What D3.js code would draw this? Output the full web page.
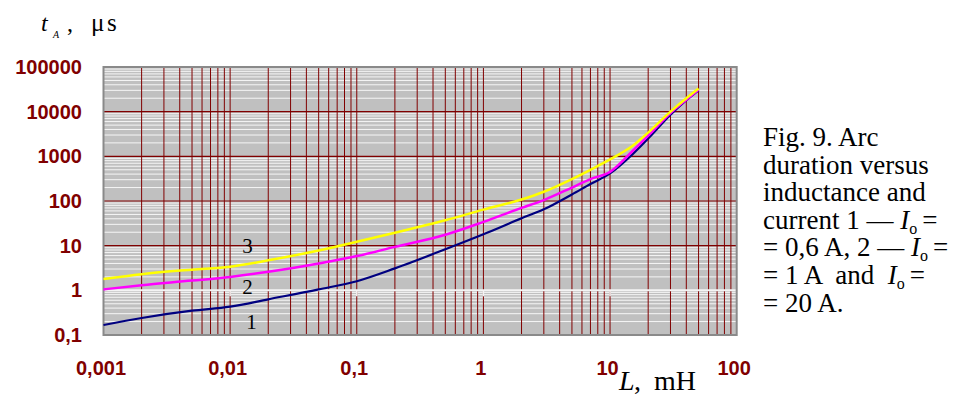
<!DOCTYPE html>
<html>
<head>
<meta charset="utf-8">
<script src="https://cdn.jsdelivr.net/npm/d3@7"></script>
<style>
body{margin:0;background:#fff}
svg{display:block}
</style>
</head>
<body>
<div id="chart"></div>
<script>
// inductance L, mH
var L_values=[0.001,0.002,0.005,0.01,0.02,0.05,0.1,0.2,0.5,1,2,3,5,7,10,15,20,30,40,50];
// arc duration tA, us  (1 - Io=0,6 A, 2 - Io=1 A, 3 - Io=20 A)
var curve1=[0.167,0.24,0.35,0.43,0.63,1.05,1.6,3.1,8.3,18,41,65,140,240,414,1100,2500,8500,18000,30000];
var curve2=[1.05,1.3,1.65,2.0,2.6,4.0,5.85,9.4,17.5,34,70,105,200,310,450,1300,2900,9300,18500,31000];
var curve3=[1.79,2.3,2.9,3.37,4.7,7.8,12.2,19.4,37,64,108,161,310,500,851,1700,3400,10000,20000,33000];
var curveNames=["1","2","3"];
var yTicks=[0.1,1,10,100,1000,10000,100000];
var yTickLabels=["0,1","1","10","100","1000","10000","100000"];
var xTicks=[0.001,0.01,0.1,1,10,100];
var xTickLabels=["0,001","0,01","0,1","1","10","100"];
var captionLines=["Fig. 9. Arc","duration versus","inductance and","current 1 \u2014 *=","= 0,6 A, 2 \u2014 *=","= 1 A  and  *=","= 20 A."];

var w=953,h=394;
var pLeft=103.5,pRight=736.7,pTop=67,pBottom=335;
var darkRed="#800000";
var lineCOLOR=["#000080","#ff00ff","#ffff00"];

var svg=d3.select("#chart").append("svg").attr("width",w).attr("height",h);

var x=d3.scaleLog().domain([0.001,100]).range([pLeft,pRight]);
var y=d3.scaleLog().domain([0.1,100000]).range([pBottom,pTop]);

//plot background
svg.append("rect")
	.attr("x",pLeft).attr("y",pTop)
	.attr("width",pRight-pLeft).attr("height",pBottom-pTop)
	.attr("fill","#c0c0c0");

//minor values on both axes
var yMinor=[],xMinor=[];
for(var e=-1;e<5;e++){for(var m=2;m<10;m++){yMinor.push(m*Math.pow(10,e));}}
for(var e=-3;e<2;e++){for(var m=2;m<10;m++){xMinor.push(m*Math.pow(10,e));}}

//horizontal minor gridlines, white
svg.append("g").selectAll("line").data(yMinor).enter().append("line")
	.attr("x1",pLeft).attr("x2",pRight)
	.attr("y1",function(d){return y(d);}).attr("y2",function(d){return y(d);})
	.attr("stroke","#ffffff").attr("stroke-opacity",0.85).attr("stroke-width",1);

//horizontal major gridlines
svg.append("g").selectAll("line").data(yTicks.filter(function(d){return d>1&&d<100000;})).enter().append("line")
	.attr("x1",pLeft).attr("x2",pRight)
	.attr("y1",function(d){return y(d);}).attr("y2",function(d){return y(d);})
	.attr("stroke",darkRed).attr("stroke-width",1.2);

//vertical gridlines
svg.append("g").selectAll("line").data(xMinor.concat(xTicks.filter(function(d){return d>0.001&&d<100;}))).enter().append("line")
	.attr("x1",function(d){return x(d);}).attr("x2",function(d){return x(d);})
	.attr("y1",pTop).attr("y2",pBottom)
	.attr("stroke",darkRed).attr("stroke-width",1);

//category axis crossing at 1, white with ticks
svg.append("line")
	.attr("x1",pLeft).attr("x2",pRight)
	.attr("y1",y(1)).attr("y2",y(1))
	.attr("stroke","#f4f4f4").attr("stroke-width",2);
svg.append("g").selectAll("line").data(xTicks).enter().append("line")
	.attr("x1",function(d){return x(d);}).attr("x2",function(d){return x(d);})
	.attr("y1",y(1)).attr("y2",y(1)+6)
	.attr("stroke","#f4f4f4").attr("stroke-width",1.5);

//border
svg.append("rect")
	.attr("x",pLeft).attr("y",pTop)
	.attr("width",pRight-pLeft).attr("height",pBottom-pTop)
	.attr("fill","none").attr("stroke","#8a8a8a").attr("stroke-width",2);

//curves
var series=[curve1,curve2,curve3];
var lineGen=d3.line()
	.x(function(d){return x(d[0]);})
	.y(function(d){return y(d[1]);})
	.curve(d3.curveMonotoneX);
for(var i=0;i<series.length;i++){
	svg.append("path")
		.datum(L_values.map(function(L,j){return [L,series[i][j]];}))
		.attr("d",lineGen)
		.attr("fill","none")
		.attr("stroke",lineCOLOR[i])
		.attr("stroke-width",i==0?2.2:2.5)
		.attr("stroke-linejoin","round");
}

var serif="'Liberation Serif','Times New Roman',serif";

//curve numbers
var labelL=0.0137, labelT=[0.2,1.2,10];
svg.append("g").selectAll("text").data(curveNames).enter().append("text")
	.attr("x",function(d,i){return x(labelL)+(i==0?4:0);})
	.attr("y",function(d,i){return y(labelT[i])+7;})
	.attr("text-anchor","middle")
	.attr("font-family",serif)
	.attr("font-size",21).attr("fill","#000")
	.text(function(d){return d;});

//tick labels
svg.append("g").selectAll("text").data(yTicks).enter().append("text")
	.attr("x",82)
	.attr("y",function(d){return y(d)+7;})
	.attr("text-anchor","end")
	.attr("font-family","'Liberation Sans',Arial,sans-serif")
	.attr("font-weight","bold").attr("font-size",20).attr("fill",darkRed)
	.text(function(d,i){return yTickLabels[i];});
svg.append("g").selectAll("text").data(xTicks).enter().append("text")
	.attr("x",function(d){return x(d)-2.5;})
	.attr("y",375)
	.attr("text-anchor","middle")
	.attr("font-family","'Liberation Sans',Arial,sans-serif")
	.attr("font-weight","bold").attr("font-size",20).attr("fill",darkRed)
	.text(function(d,i){return xTickLabels[i];});

//axis titles
var yt=svg.append("text").attr("y",31)
	.attr("font-family",serif).attr("font-size",24).attr("fill","#000");
yt.append("tspan").attr("x",41).attr("font-style","italic").text("t");
yt.append("tspan").attr("x",53).attr("y",38).attr("font-style","italic").attr("font-size",10).text("A");
yt.append("tspan").attr("x",67).attr("y",31).text(",");
yt.append("tspan").attr("x",91).attr("font-size",25).text("\u03bc");
yt.append("tspan").attr("x",107).attr("font-size",25).text("s");

var xt=svg.append("text").attr("y",390)
	.attr("font-family",serif).attr("font-size",28).attr("fill","#000");
xt.append("tspan").attr("x",619).attr("font-style","italic").text("L");
xt.append("tspan").attr("x",634).text(",");
xt.append("tspan").attr("x",654).text("mH");

//caption
var cap=svg.append("g").attr("font-family",serif).attr("font-size",27).attr("fill","#000");
captionLines.forEach(function(s,i){
	var t=cap.append("text").attr("x",763).attr("y",146+i*27.6).attr("xml:space","preserve");
	var parts=s.split("*");
	t.append("tspan").text(parts[0]);
	if(parts.length>1){
		t.append("tspan").attr("font-style","italic").text("I");
		t.append("tspan").attr("font-size",16).attr("dy",5).text("o");
		t.append("tspan").attr("dy",-5).attr("dx",5).text(parts[1]);
	}
});
</script>
</body>
</html>
